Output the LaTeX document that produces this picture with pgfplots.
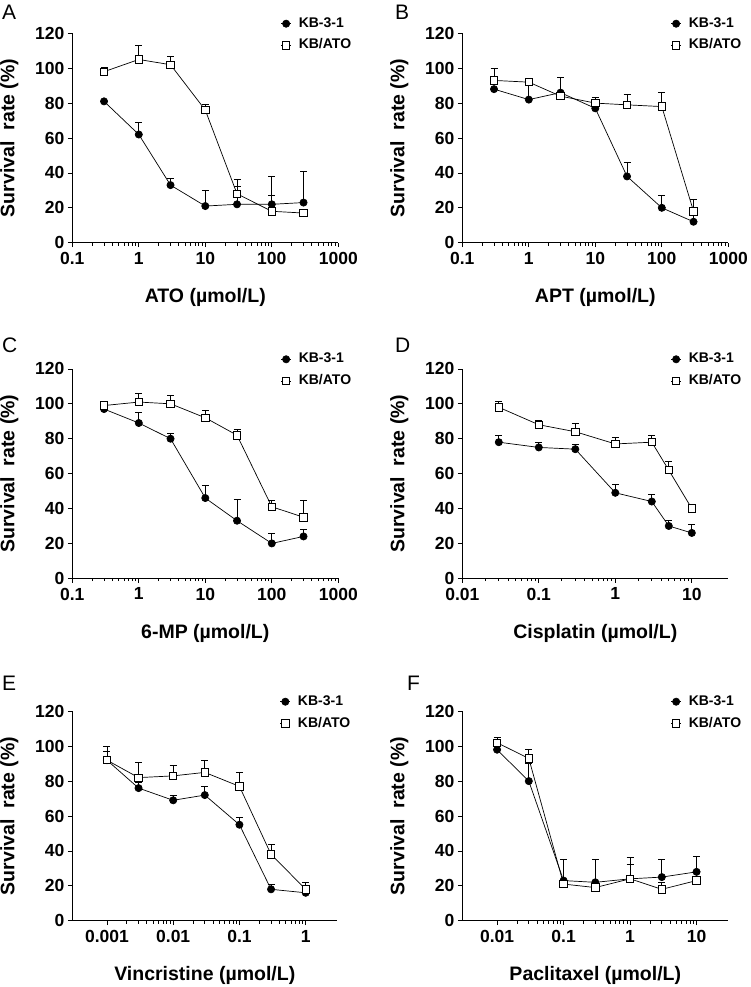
\documentclass[border=0pt]{standalone}
\usepackage{fontspec}
\setmainfont{Liberation Sans}
\usepackage{pgfplots}
\usepackage{pgfplotstable}
\pgfplotsset{compat=1.18}

% ---------- data: x  y  upper error ----------
\pgfplotstableread{
x y e
0.3 81 0
1 62 7
3 33 4
10 21 9
30 22 10
100 22 16
300 23 18
}\Aa
\pgfplotstableread{
x y e
0.3 98 2.5
1 105 8
3 102 5
10 76 3.5
30 28 8
100 18 9
300 17 0.5
}\Ab
\pgfplotstableread{
x y e
0.3 88 0
1 82 10
3 86 9
10 77 6
30 38 8
100 20 7
300 12 6
}\Ba
\pgfplotstableread{
x y e
0.3 93 7
1 92 0
3 84 0
10 80 3
30 79 6
100 78 8
300 18 7
}\Bb
\pgfplotstableread{
x y e
0.3 97 0
1 89 6
3 80 3
10 46 7
30 33 12
100 20 6
300 24 4
}\Ca
\pgfplotstableread{
x y e
0.3 99 2
1 101 5
3 100 5
10 92 4
30 82 3.5
100 41 3.5
300 35 9.5
}\Cb
\pgfplotstableread{
x y e
0.03 78 4
0.1 75 3
0.3 74 3
1 49 5
3 44 4
5 30 3
10 26 5
}\Da
\pgfplotstableread{
x y e
0.03 98 3.5
0.1 88 2.5
0.3 84 5
1 77 4
3 78 4
5 62 5
10 40 1
}\Db
\pgfplotstableread{
x y e
0.001 92 5
0.003 76 3
0.01 69 3
0.03 72 5
0.1 55 4
0.3 18 3
1 16 0
}\Ea
\pgfplotstableread{
x y e
0.001 92 8
0.003 82 9
0.01 83 6
0.03 85 7
0.1 77 8
0.3 38 6
1 18 4
}\Eb
\pgfplotstableread{
x y e
0.01 98 0
0.03 80 10
0.1 23 12
0.3 22 13
1 24 8
3 25 10
10 28 9
}\Fa
\pgfplotstableread{
x y e
0.01 102 3
0.03 93 5
0.1 21 0
0.3 19 0
1 24 12
3 18 4
10 23 2
}\Fb

\pgfplotsset{
  legend image code/.code={\draw[#1, mark repeat=2, mark phase=2] plot coordinates {(0pt,0pt) (5pt,0pt) (10pt,0pt)};},
  every axis/.append style={
    scale only axis, height=209.4pt,
    ymin=0, ymax=120,
    axis x line*=bottom, axis y line*=left,
    axis line style={black, line width=0.8pt},
    tick align=outside, major tick length=4.5pt,
    tick style={black, line width=0.8pt},
    ytick={0,20,40,60,80,100,120},
    yticklabels={0,20,40,60,80,100,120},
    ticklabel style={font=\fontsize{17.5}{17.5}\selectfont\bfseries},
    xticklabel style={yshift=-1.5pt},
    label style={font=\fontsize{19.5}{19.5}\selectfont\bfseries},
    ylabel={Survival\ \ rate (\%)},
    xlabel style={at={([yshift=-60pt]axis description cs:0.5,0)}, anchor=base},
    ylabel style={at={([xshift=-63pt]axis description cs:0,0.5)}, anchor=center},
    legend style={draw=none, fill=none, at={(axis description cs:0.783,1.0817)},
      anchor=north west, font=\fontsize{14}{14}\selectfont\bfseries,
      inner sep=0pt, row sep=7pt, column sep=6.3pt,
      nodes={inner sep=1pt, text height=10pt, text depth=2.6pt}},
    legend cell align=left,
    clip=false,
  },
}
\tikzset{
  kbA/.style={black, line width=0.7pt, mark=*, mark size=3.6pt,
    mark options={solid, fill=black}},
  kbB/.style={black, line width=0.7pt, mark=square*, mark size=3.7pt,
    mark options={solid, fill=white, draw=black, line width=0.8pt}},
}

\begin{document}
\begin{tikzpicture}
\useasboundingbox (0,0) rectangle (750pt,-987pt);

% Panel A
\begin{semilogxaxis}[width=266pt, anchor=south west, at={(72.3pt,-242.7pt)}, xmin=0.1, xmax=1000,
  xtick={0.1,1,10,100,1000}, xticklabels={0.1,1,10,100,1000},
  xlabel={ATO (µmol/L)}]
\addplot[kbA, error bars/.cd, y dir=plus, y explicit, error bar style={line width=0.8pt, black}, error mark options={rotate=90, mark size=3.5pt, line width=0.8pt, black}] table[x=x, y=y, y error=e] {\Aa};
\addplot[kbB, error bars/.cd, y dir=plus, y explicit, error bar style={line width=0.8pt, black}, error mark options={rotate=90, mark size=3.5pt, line width=0.8pt, black}] table[x=x, y=y, y error=e] {\Ab};
\legend{KB-3-1, KB/ATO}
\end{semilogxaxis}

% Panel B
\begin{semilogxaxis}[width=266pt, anchor=south west, at={(462.3pt,-242.7pt)}, xmin=0.1, xmax=1000,
  xtick={0.1,1,10,100,1000}, xticklabels={0.1,1,10,100,1000},
  xlabel={APT (µmol/L)}]
\addplot[kbA, error bars/.cd, y dir=plus, y explicit, error bar style={line width=0.8pt, black}, error mark options={rotate=90, mark size=3.5pt, line width=0.8pt, black}] table[x=x, y=y, y error=e] {\Ba};
\addplot[kbB, error bars/.cd, y dir=plus, y explicit, error bar style={line width=0.8pt, black}, error mark options={rotate=90, mark size=3.5pt, line width=0.8pt, black}] table[x=x, y=y, y error=e] {\Bb};
\legend{KB-3-1, KB/ATO}
\end{semilogxaxis}

% Panel C
\begin{semilogxaxis}[width=266pt, anchor=south west, at={(72.3pt,-578.3pt)}, xmin=0.1, xmax=1000,
  xtick={0.1,1,10,100,1000}, xticklabels={0.1,1,10,100,1000},
  xlabel={6-MP (µmol/L)}]
\addplot[kbA, error bars/.cd, y dir=plus, y explicit, error bar style={line width=0.8pt, black}, error mark options={rotate=90, mark size=3.5pt, line width=0.8pt, black}] table[x=x, y=y, y error=e] {\Ca};
\addplot[kbB, error bars/.cd, y dir=plus, y explicit, error bar style={line width=0.8pt, black}, error mark options={rotate=90, mark size=3.5pt, line width=0.8pt, black}] table[x=x, y=y, y error=e] {\Cb};
\legend{KB-3-1, KB/ATO}
\end{semilogxaxis}

% Panel D
\begin{semilogxaxis}[width=266pt, anchor=south west, at={(462.3pt,-578.3pt)}, xmin=0.01, xmax=30,
  xtick={0.01,0.1,1,10}, xticklabels={0.01,0.1,1,10},
  xlabel={Cisplatin (µmol/L)}]
\addplot[kbA, error bars/.cd, y dir=plus, y explicit, error bar style={line width=0.8pt, black}, error mark options={rotate=90, mark size=3.5pt, line width=0.8pt, black}] table[x=x, y=y, y error=e] {\Da};
\addplot[kbB, error bars/.cd, y dir=plus, y explicit, error bar style={line width=0.8pt, black}, error mark options={rotate=90, mark size=3.5pt, line width=0.8pt, black}] table[x=x, y=y, y error=e] {\Db};
\legend{KB-3-1, KB/ATO}
\end{semilogxaxis}

% Panel E
\begin{semilogxaxis}[width=265pt, anchor=south west, at={(72.3pt,-920.7pt)}, xmin=0.0003, xmax=3,
  xtick={0.001,0.01,0.1,1}, xticklabels={0.001,0.01,0.1,1},
  xlabel={Vincristine (µmol/L)}]
\addplot[kbA, error bars/.cd, y dir=plus, y explicit, error bar style={line width=0.8pt, black}, error mark options={rotate=90, mark size=3.5pt, line width=0.8pt, black}] table[x=x, y=y, y error=e] {\Ea};
\addplot[kbB, error bars/.cd, y dir=plus, y explicit, error bar style={line width=0.8pt, black}, error mark options={rotate=90, mark size=3.5pt, line width=0.8pt, black}] table[x=x, y=y, y error=e] {\Eb};
\legend{KB-3-1, KB/ATO}
\end{semilogxaxis}

% Panel F
\begin{semilogxaxis}[width=266pt, anchor=south west, at={(462.3pt,-920.7pt)}, xmin=0.003, xmax=30,
  xtick={0.01,0.1,1,10}, xticklabels={0.01,0.1,1,10},
  xlabel={Paclitaxel (µmol/L)}]
\addplot[kbA, error bars/.cd, y dir=plus, y explicit, error bar style={line width=0.8pt, black}, error mark options={rotate=90, mark size=3.5pt, line width=0.8pt, black}] table[x=x, y=y, y error=e] {\Fa};
\addplot[kbB, error bars/.cd, y dir=plus, y explicit, error bar style={line width=0.8pt, black}, error mark options={rotate=90, mark size=3.5pt, line width=0.8pt, black}] table[x=x, y=y, y error=e] {\Fb};
\legend{KB-3-1, KB/ATO}
\end{semilogxaxis}

% panel letters
\begin{scope}[every node/.style={anchor=base west, inner sep=0pt, font=\fontsize{21}{21}\selectfont}]
\node at (2pt,-20pt) {A};
\node at (395pt,-20pt) {B};
\node at (2pt,-352pt) {C};
\node at (395pt,-352pt) {D};
\node at (2pt,-690pt) {E};
\node at (407pt,-690pt) {F};
\end{scope}
\end{tikzpicture}
\end{document}
